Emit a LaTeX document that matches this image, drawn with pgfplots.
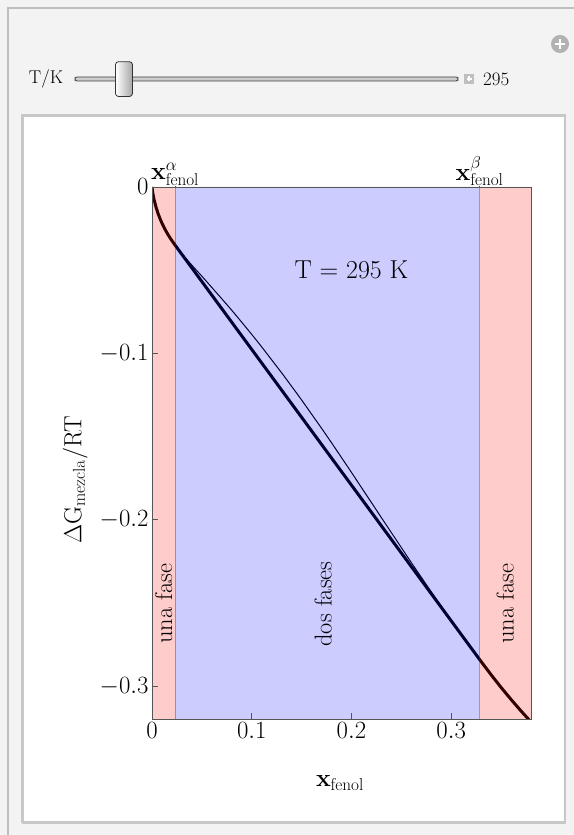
\documentclass[border=0pt]{standalone}
\usepackage{pgfplots}
\pgfplotsset{compat=1.18}
\definecolor{panelbg}{RGB}{243,243,243}
\definecolor{panelline}{RGB}{190,190,190}
\definecolor{innerline}{RGB}{200,200,200}
\definecolor{framecol}{RGB}{85,85,85}
\begin{document}
\begin{tikzpicture}[x=1bp,y=1bp]
\useasboundingbox (0,0) rectangle (574,835);
\fill[panelbg] (0,0) rectangle (574,835);
\draw[panelline, line width=2bp] (7.5,0) -- (7.5,827) -- (574,827);
% inner panel
\fill[white] (21,13) rectangle (566,721);
\draw[innerline, line width=3bp] (22.5,12) -- (22.5,719.5) -- (566,719.5);
\draw[innerline, line width=2.5bp] (22,12.5) -- (565,12.5) -- (565,720);
% slider
\node[font=\fontsize{18.5}{22}\selectfont] at (46,756) {T/K};
\draw[rounded corners=2bp, fill=black!20, draw=black!75, line width=0.8bp] (75,754) rectangle (458,758);
\shade[left color=white, right color=black!35, rounded corners=3bp] (115.5,738.5) rectangle (132.5,773.3);
\draw[black!80, rounded corners=3bp, line width=0.8bp] (115.5,738.5) rectangle (132.5,773.3);
\fill[black!25] (464,751) rectangle (474,761);
\draw[white, line width=1.5bp] (466.5,756) -- (471.5,756) (469,753.5) -- (469,758.5);
\node[anchor=west, inner sep=0pt, font=\fontsize{19}{22}\selectfont] at (483,756) {295};
\fill[black!30] (560,791) circle (9);
\draw[white, line width=2.5bp] (555,791) -- (565,791) (560,786) -- (560,796);
% plot
\begin{axis}[
  at={(152bp,115.5bp)}, anchor=south west,
  scale only axis, width=379bp, height=532.5bp,
  xmin=0, xmax=0.38, ymin=-0.32, ymax=0,
  axis on top,
  axis line style={framecol, line width=0.8bp},
  xtick={0,0.1,0.2,0.3}, xticklabels={$0$,$0.1$,$0.2$,$0.3$},
  ytick={-0.3,-0.2,-0.1,0}, yticklabels={$-0.3$,$-0.2$,$-0.1$,$0$},
  xtick pos=bottom, ytick pos=left,
  tick align=inside, major tick length=6bp,
  tick style={framecol, line width=0.8bp},
  ticklabel style={font=\fontsize{24}{28}\selectfont},
  xlabel={$\mathbf{x}_{\mathrm{fenol}}$},
  xlabel style={at={(axis description cs:0.496,-0.119)}, anchor=center, font=\fontsize{26}{30}\selectfont},
  ylabel={$\Delta\mathrm{G}_{\mathrm{mezcla}}/\mathrm{RT}$},
  ylabel style={at={(axis description cs:-0.203,0.45)}, anchor=center, font=\fontsize{27}{30}\selectfont},
]
\addplot[black, line width=3bp, line join=round] coordinates {
(0,0) (0.0005,-0.00252) (0.001,-0.00436) (0.002,-0.00736) (0.004,-0.01205) (0.006,-0.0158) (0.008,-0.01897) (0.01,-0.02175) (0.012,-0.02423) (0.014,-0.02648) (0.016,-0.02855) (0.018,-0.03047) (0.02,-0.03228) (0.0231,-0.0349) (0.3284,-0.2839) (0.34,-0.29313) (0.35,-0.30073) (0.36,-0.30797) (0.37,-0.31489) (0.38,-0.32146) (0.385,-0.3247)
};
\addplot[black, line width=1bp, smooth] coordinates {
(0.0231,-0.0349) (0.03,-0.0401) (0.04,-0.0470) (0.05,-0.0536) (0.06,-0.0604) (0.07,-0.0672) (0.08,-0.0741) (0.09,-0.0813) (0.10,-0.0886) (0.11,-0.0961) (0.12,-0.1039) (0.13,-0.1117) (0.14,-0.1198) (0.15,-0.1280) (0.16,-0.1365) (0.17,-0.1450) (0.18,-0.1537) (0.19,-0.1626) (0.20,-0.1715) (0.21,-0.1806) (0.22,-0.1896) (0.23,-0.1987) (0.24,-0.2077) (0.25,-0.2167) (0.26,-0.2257) (0.27,-0.2345) (0.28,-0.2433) (0.29,-0.2519) (0.30,-0.2605) (0.31,-0.2688) (0.3284,-0.2839)
};
\addplot[draw=red, fill=red, draw opacity=0.2, fill opacity=0.2, line width=0.6bp] coordinates {(0,-0.32) (0,0) (0.0231,0) (0.0231,-0.32) (0,-0.32)};
\addplot[draw=blue, fill=blue, draw opacity=0.2, fill opacity=0.2, line width=0.6bp] coordinates {(0.0231,-0.32) (0.0231,0) (0.3284,0) (0.3284,-0.32) (0.0231,-0.32)};
\addplot[draw=red, fill=red, draw opacity=0.2, fill opacity=0.2, line width=0.6bp] coordinates {(0.3284,-0.32) (0.3284,0) (0.38,0) (0.38,-0.32) (0.3284,-0.32)};
\draw[framecol, line width=0.8bp] (axis cs:0.0231,0) -- ++(0,-6bp);
\draw[framecol, line width=0.8bp] (axis cs:0.3284,0) -- ++(0,-6bp);
\node[font=\fontsize{26}{30}\selectfont] at (axis cs:0.2,-0.05) {T = 295 K};
\node[rotate=90, font=\fontsize{24.5}{30}\selectfont] at (axis cs:0.0116,-0.2505) {una fase};
\node[rotate=90, font=\fontsize{24.5}{30}\selectfont] at (axis cs:0.1716,-0.2506) {dos fases};
\node[rotate=90, font=\fontsize{24.5}{30}\selectfont] at (axis cs:0.354,-0.2505) {una fase};
\coordinate (xa) at (axis cs:0.0231,0);
\coordinate (xb) at (axis cs:0.3284,0);
\end{axis}
\node[anchor=south, inner sep=1.5bp, font=\fontsize{24}{28}\selectfont] at (xa) {$\mathbf{x}^{\alpha}_{\mathrm{fenol}}$};
\node[anchor=south, inner sep=1.5bp, font=\fontsize{24}{28}\selectfont] at (xb) {$\mathbf{x}^{\beta}_{\mathrm{fenol}}$};
\end{tikzpicture}
\end{document}
